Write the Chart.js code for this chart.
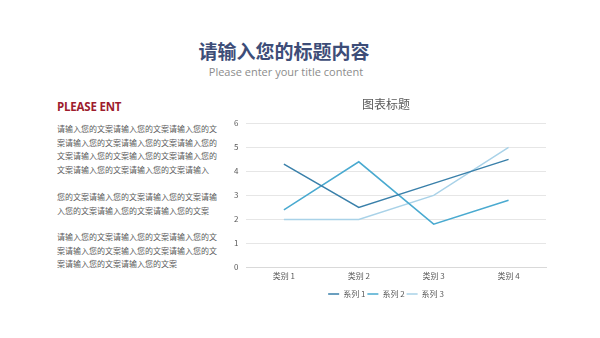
<!DOCTYPE html>
<html>
<head>
<meta charset="utf-8">
<script src="https://cdn.jsdelivr.net/npm/chart.js@4"></script>
<style>
  html, body { margin: 0; padding: 0; background: #fff; }
  body { width: 600px; height: 338px; position: relative; overflow: hidden; font-family: "Noto Sans CJK SC", "Noto Sans", sans-serif; }
  .title { position: absolute; left: 0; width: 568px; top: 37px; text-align: center; font-size: 19px; font-weight: bold; color: #3d4d78; }
  .sub { position: absolute; left: 0; width: 572px; top: 64px; text-align: center; font-size: 11px; color: #8c8c8c; font-family: "Open Sans", sans-serif; }
  .red { position: absolute; left: 57px; top: 99px; font-size: 11.5px; font-weight: bold; color: #9e1c2e; font-family: "Open Sans", sans-serif; letter-spacing: -0.2px; }
  .para { position: absolute; left: 57px; font-size: 8px; line-height: 13.6px; color: #5a5a5a; white-space: pre; }
  #holder { position: absolute; left: 222px; top: 97px; width: 330px; height: 212px; }
</style>
</head>
<body>
<div class="title">请输入您的标题内容</div>
<div class="sub">Please enter your title content</div>
<div class="red">PLEASE ENT</div>
<div class="para" style="top:122px">请输入您的文案请输入您的文案请输入您的文
案请输入您的文案请输入您的文案请输入您的
文案请输入您的文案输入您的文案请输入您的
文案请输入您的文案请输入您的文案请输入</div>
<div class="para" style="top:190px">您的文案请输入您的文案请输入您的文案请输
入您的文案请输入您的文案请输入您的文案</div>
<div class="para" style="top:230px">请输入您的文案请输入您的文案请输入您的文
案请输入您的文案输入您的文案请输入您的文
案请输入您的文案请输入您的文案</div>
<div id="holder"><canvas id="chart"></canvas></div>
<script>
var categories = ["类别 1", "类别 2", "类别 3", "类别 4"];
var series1 = [4.3, 2.5, 3.5, 4.5];
var series2 = [2.4, 4.4, 1.8, 2.8];
var series3 = [2, 2, 3, 5];
var yTicks = [0, 1, 2, 3, 4, 5, 6];

var canvas = document.getElementById("chart");
var chart = new Chart(canvas, {
    type: 'line',
    data: {
        labels: categories,
        datasets: [
            { label: '系列 1', data: series1, borderColor: '#3a80aa', backgroundColor: '#3a80aa', borderWidth: 1.5, pointRadius: 0, tension: 0 },
            { label: '系列 2', data: series2, borderColor: '#4aaad0', backgroundColor: '#4aaad0', borderWidth: 1.5, pointRadius: 0, tension: 0 },
            { label: '系列 3', data: series3, borderColor: '#a9d2e8', backgroundColor: '#a9d2e8', borderWidth: 1.5, pointRadius: 0, tension: 0 }
        ]
    },
    options: {
        responsive: true,
        maintainAspectRatio: false,
        animation: false,
        layout: { padding: { left: 4, right: 6, top: 0, bottom: 1 } },
        plugins: {
            title: { display: true, text: '图表标题', color: '#595959', font: { size: 12, weight: 'normal', family: '"Noto Sans CJK SC"' }, padding: { top: 0, bottom: 12 } },
            legend: {
                position: 'bottom',
                labels: { boxWidth: 11, boxHeight: 0, color: '#595959', font: { size: 8, family: '"Noto Sans CJK SC"' }, padding: 2 }
            },
            tooltip: { enabled: false }
        },
        scales: {
            x: {
                offset: true,
                grid: { display: false },
                border: { color: '#d9d9d9' },
                ticks: { color: '#595959', font: { size: 8, family: '"Noto Sans CJK SC"' }, padding: -4 },
                afterFit: function (axis) { axis.height += 11; }
            },
            y: {
                min: 0, max: 6,
                afterBuildTicks: function (axis) { axis.ticks = yTicks.map(function (v) { return { value: v }; }); },
                grid: { color: '#e6e6e6', drawTicks: false },
                border: { display: false },
                ticks: { color: '#595959', font: { size: 8, family: '"Noto Sans CJK SC"' }, padding: 8 }
            }
        }
    }
});
</script>
</body>
</html>
